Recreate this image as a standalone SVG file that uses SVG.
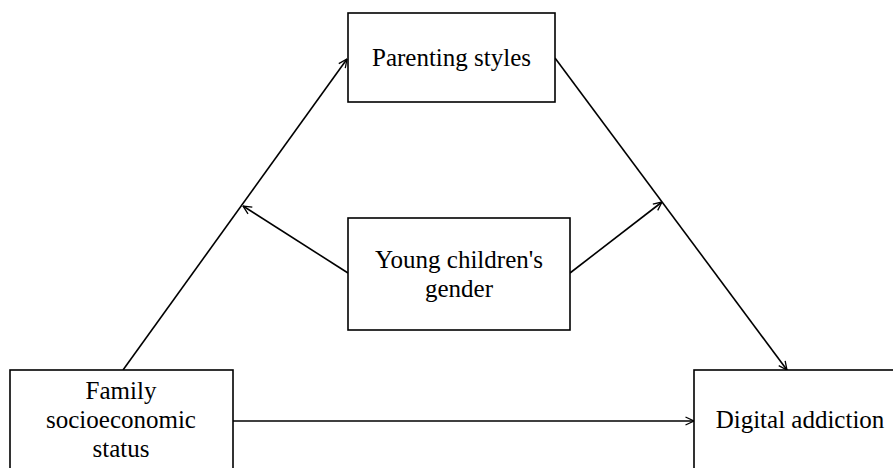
<svg xmlns="http://www.w3.org/2000/svg" width="893" height="468" viewBox="0 0 893 468">
<style>
.box{fill:#fff;stroke:#000;stroke-width:1.6}
.lbl{font-family:"Liberation Serif","Times New Roman",serif;font-size:25px;fill:#000;text-anchor:middle}
.edge{stroke:#000;stroke-width:1.6;fill:none;marker-end:url(#arr)}
</style>
<defs>
<marker id="arr" viewBox="0 0 10 10" refX="9.5" refY="5" markerWidth="10" markerHeight="10" markerUnits="userSpaceOnUse" orient="auto">
<path d="M1,1 L9.5,5 L1,9" fill="none" stroke="#000" stroke-width="1.3"/>
</marker>
</defs>
<rect width="893" height="468" fill="#fff"/>
<g id="connectors">
<line class="edge" x1="123" y1="370" x2="347" y2="59"/>
<line class="edge" x1="555" y1="58" x2="787" y2="370"/>
<line class="edge" x1="233" y1="421" x2="694" y2="421"/>
<line class="edge" x1="348" y1="273" x2="243" y2="206"/>
<line class="edge" x1="570" y1="273" x2="662" y2="202"/>
</g>
<g id="parenting">
<rect class="box" x="348" y="13" width="207" height="89"/>
<text class="lbl" x="451.5" y="66">Parenting styles</text>
</g>
<g id="gender">
<rect class="box" x="348" y="218" width="222" height="112"/>
<text class="lbl" x="459" y="268">Young children's</text>
<text class="lbl" x="459" y="297">gender</text>
</g>
<g id="family">
<rect class="box" x="10" y="370" width="223" height="110"/>
<text class="lbl" x="121" y="399">Family</text>
<text class="lbl" x="121" y="428">socioeconomic</text>
<text class="lbl" x="121" y="457">status</text>
</g>
<g id="digital">
<rect class="box" x="694" y="370" width="210" height="110"/>
<text class="lbl" x="800" y="428">Digital addiction</text>
</g>
</svg>
